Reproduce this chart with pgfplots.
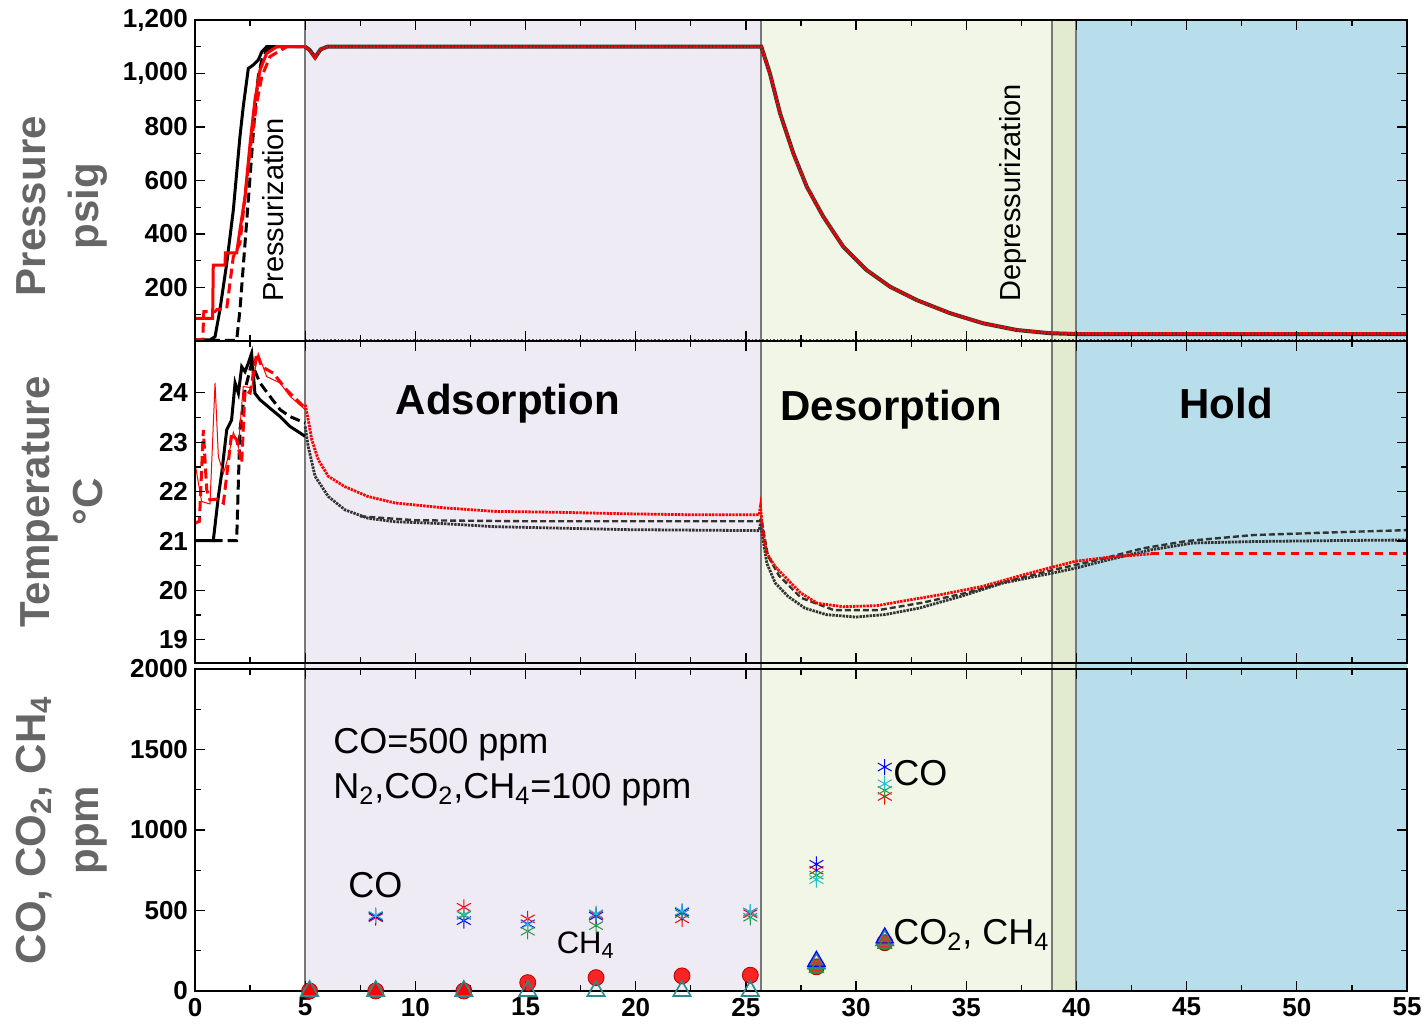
\documentclass[border=0pt]{standalone}
\usepackage{fontspec}
\setmainfont{Liberation Sans}
\usepackage{pgfplots}
\pgfplotsset{compat=1.18}
\definecolor{adsorb}{RGB}{238,235,244}
\definecolor{desorb}{RGB}{242,246,230}
\definecolor{band}{RGB}{226,235,208}
\definecolor{hold}{RGB}{183,222,234}
\definecolor{sep}{RGB}{120,120,120}
\definecolor{labgray}{RGB}{102,102,102}
\definecolor{tealm}{RGB}{40,140,140}
\definecolor{greenm}{RGB}{40,150,60}
\definecolor{cyanm}{RGB}{40,190,200}
\pgfplotsset{
  panel/.style={
    width=606pt, scale only axis, xmin=0, xmax=55,
    axis on top, tick align=inside, tick pos=both,
    xtick={0,5,...,55}, minor x tick num=1, minor y tick num=1,
    major tick length=5pt, minor tick length=3pt,
    axis line style={line width=1pt, black},
    tick style={black, line width=0.6pt},
    tick label style={font=\fontsize{13}{13}\selectfont\bfseries},
    /pgf/number format/assume math mode=true,
    ylabel style={align=center, font=\fontsize{21}{26.5}\selectfont\bfseries, text=labgray, at={(axis description cs:-0.110,0.5)}, anchor=center},
  },
  bg/.style={draw=none, forget plot},
  sepl/.style={sep, line width=1pt, forget plot},
  rthick/.style={red, line width=1.5pt},
  bthick/.style={black, line width=1.5pt},
  dsh/.style={dash pattern=on 5pt off 2.5pt},
  rdat/.style={red, line width=1.4pt, dash pattern=on 1.2pt off 0.5pt},
  bdat/.style={black!80, line width=1.4pt, dash pattern=on 1.2pt off 0.5pt},
}
\begin{document}
\begin{tikzpicture}
\path[use as bounding box] (-97.5pt,-17.5pt) rectangle (616pt,495.5pt);
% ---------------- bottom panel ----------------
\begin{axis}[panel, at={(0pt,0pt)}, anchor=south west, height=161pt,
  ymin=0, ymax=2000, ytick={0,500,...,2000}, clip=false,
  yticklabel style={/pgf/number format/1000 sep={}},
  ylabel={CO, CO\textsubscript{2}, CH\textsubscript{4}\\ppm}]
\addplot[bg, fill=adsorb] coordinates {(5,0) (25.7,0) (25.7,2037) (5,2037)};
\addplot[bg, fill=desorb] coordinates {(25.7,0) (38.9,0) (38.9,2037) (25.7,2037)};
\addplot[bg, fill=band] coordinates {(38.9,0) (40,0) (40,2037) (38.9,2037)};
\addplot[bg, fill=hold] coordinates {(40,0) (55,0) (55,2037) (40,2037)};
\addplot[sepl] coordinates {(5,0) (5,2037)};
\addplot[sepl] coordinates {(25.7,0) (25.7,2037)};
\addplot[sepl] coordinates {(38.9,0) (38.9,2037)};
\addplot[sepl] coordinates {(40,0) (40,2037)};
% CO2 / CH4 circles
\addplot[only marks, mark=*, mark size=4pt, mark options={fill=red, draw=red!70!black, fill opacity=0.85}] coordinates {
(5.2,0) (8.2,0) (12.2,0) (15.1,52) (18.2,83) (22.1,94) (25.2,98) (28.2,150) (31.3,300)};
\addplot[only marks, mark=triangle*, mark size=4pt, mark options={fill=red, draw=red}] coordinates {
(5.2,0) (8.2,0) (12.2,0)};
\addplot[only marks, mark=triangle, mark size=5pt, mark options={draw=tealm, line width=0.8pt}] coordinates {
(5.2,0) (8.2,0) (12.2,0) (15.1,0) (18.2,0) (22.1,0) (25.2,0) (28.2,170) (31.3,315)};
\addplot[only marks, mark=triangle, mark size=5pt, mark options={draw=blue, line width=0.6pt}] coordinates {
(28.2,185) (31.3,330)};
\addplot[only marks, mark=triangle, mark size=4pt, mark options={draw=greenm, line width=0.6pt}] coordinates {
(28.2,140) (31.3,290)};
% CO stars
\addplot[only marks, mark=asterisk, mark size=4pt, mark options={draw=red, line width=0.5pt}] coordinates {
(8.2,455) (12.2,520) (15.1,448) (18.2,475) (22.1,448) (25.2,480) (28.2,750) (31.3,1208)};
\addplot[only marks, mark=asterisk, mark size=4pt, mark options={draw=greenm, line width=0.5pt}] coordinates {
(8.2,465) (12.2,469) (15.1,371) (18.2,406) (22.1,480) (25.2,458) (28.2,719) (31.3,1246)};
\addplot[only marks, mark=asterisk, mark size=4pt, mark options={draw=blue, line width=0.5pt}] coordinates {
(8.2,462) (12.2,437) (15.1,417) (18.2,465) (22.1,490) (25.2,490) (28.2,787) (31.3,1391)};
\addplot[only marks, mark=asterisk, mark size=4pt, mark options={draw=cyanm, line width=0.5pt}] coordinates {
(8.2,470) (12.2,475) (15.1,412) (18.2,480) (22.1,496) (25.2,490) (28.2,692) (31.3,1287)};
\node[anchor=west, font=\fontsize{18}{18}\selectfont, inner sep=0pt] at (axis cs:6.26,1528) {CO=500 ppm};
\node[anchor=west, font=\fontsize{18}{18}\selectfont, inner sep=0pt] at (axis cs:6.26,1248) {N\textsubscript{2},CO\textsubscript{2},CH\textsubscript{4}=100 ppm};
\node[anchor=west, font=\fontsize{18}{18}\selectfont, inner sep=0pt] at (axis cs:6.94,658) {CO};
\node[anchor=west, font=\fontsize{15.5}{15.5}\selectfont, inner sep=0pt] at (axis cs:16.4,286) {CH\textsubscript{4}};
\node[anchor=west, font=\fontsize{18}{18}\selectfont, inner sep=0pt] at (axis cs:31.67,1354) {CO};
\node[anchor=west, font=\fontsize{18}{18}\selectfont, inner sep=0pt] at (axis cs:31.67,348) {CO\textsubscript{2}, CH\textsubscript{4}};
\end{axis}
% ---------------- middle panel ----------------
\begin{axis}[panel, at={(0pt,164pt)}, anchor=south west, height=161pt,
  ymin=18.53, ymax=25.05, ytick={19,20,...,24}, xticklabels={},
  ylabel={Temperature\\°C}]
\addplot[bg, fill=adsorb] coordinates {(5,18) (25.7,18) (25.7,26) (5,26)};
\addplot[bg, fill=desorb] coordinates {(25.7,18) (38.9,18) (38.9,26) (25.7,26)};
\addplot[bg, fill=band] coordinates {(38.9,18) (40,18) (40,26) (38.9,26)};
\addplot[bg, fill=hold] coordinates {(40,18) (55,18) (55,26) (40,26)};
\addplot[sepl] coordinates {(5,18) (5,26)};
\addplot[sepl] coordinates {(25.7,18) (25.7,26)};
\addplot[sepl] coordinates {(38.9,18) (38.9,26)};
\addplot[sepl] coordinates {(40,18) (40,26)};
% pre-adsorption traces
\addplot[bthick] coordinates {(0,21.01) (0.83,21.01) (1.06,21.9) (1.21,22.37) (1.44,23.25) (1.66,23.45) (1.82,24.2) (1.97,23.99) (2.12,24.53) (2.27,24.43) (2.42,24.6) (2.57,24.8) (2.72,23.99) (2.95,23.86) (3.4,23.69) (3.86,23.52) (4.31,23.32) (5,23.12)};
\addplot[bthick, dsh] coordinates {(0.8,21.01) (1.89,21.01) (2.04,23.25) (2.27,24.06) (2.57,24.6) (2.95,24.2) (3.4,23.93) (3.86,23.66) (4.31,23.52) (5,23.39)};
\addplot[rthick, dsh] coordinates {(0,21.36) (0.2,21.4) (0.38,23.25) (0.53,22.04) (0.68,21.83) (1.0,21.85) (1.29,21.77) (1.51,22.58) (1.66,23.18) (1.89,23.05) (2.12,22.58) (2.27,24.06) (2.5,24.0) (2.8,24.8) (3.03,24.53) (3.55,24.4) (4.16,24.06) (5,23.69)};
\addplot[red, line width=0.5pt] coordinates {(0,22.58) (0.3,21.8) (0.68,21.75) (0.91,24.2) (1.06,22.71) (1.29,22.37) (1.51,22.7) (1.74,23.2) (1.97,22.9) (2.19,24.13) (2.57,24.1) (2.87,24.8) (3.25,24.33) (3.86,24.2) (4.31,23.93) (5,23.66)};
% logged traces
\addplot[bdat] coordinates {(5,23.32) (5.14,22.91) (5.45,22.31) (6.05,21.90) (6.81,21.63) (7.86,21.46) (9.08,21.39) (11.34,21.35) (13.6,21.29) (16.6,21.26) (19.66,21.23) (25.6,21.21) (25.66,21.36) (25.95,20.55) (26.33,20.15) (26.91,19.88) (27.68,19.64) (28.64,19.51) (29.98,19.46) (31.31,19.51) (32.85,19.64) (34.76,19.88) (36.67,20.15) (38.9,20.35) (39.96,20.45) (41.45,20.62) (43.37,20.82) (45.29,20.96) (48.16,20.99) (51.99,21.01) (55,21.02)};
\addplot[black!80, line width=1.2pt, dash pattern=on 3pt off 1.5pt] coordinates {(7.5,21.5) (10,21.42) (15,21.4) (25.6,21.4) (25.7,21.45) (26,20.7) (26.5,20.3) (27.5,19.85) (29,19.6) (31,19.6) (33,19.75) (35,19.95) (37,20.2) (39,20.42) (41,20.62) (43,20.85) (45,21.0) (48,21.12) (52,21.18) (55,21.22)};
\addplot[rdat] coordinates {(5,23.76) (5.14,23.45) (5.3,23.05) (5.6,22.64) (6.05,22.31) (6.8,22.10) (7.86,21.90) (9.08,21.77) (11.34,21.67) (13.6,21.60) (16.6,21.58) (19.66,21.55) (22.69,21.53) (25.6,21.53) (25.66,21.70) (25.76,21.23) (25.95,20.75) (26.33,20.48) (26.91,20.21) (27.48,19.95) (28.24,19.74) (29.4,19.67) (30.93,19.69) (32.46,19.81) (33.8,19.91) (35.72,20.08) (37.63,20.32) (38.9,20.47) (39.96,20.59) (41.45,20.67) (43.37,20.74)};
\addplot[red, line width=1.4pt, dash pattern=on 4pt off 3pt] coordinates {(43.37,20.74) (55,20.74)};
\node[font=\fontsize{21}{21}\selectfont\bfseries] at (axis cs:14.2,23.78) {Adsorption};
\node[font=\fontsize{21}{21}\selectfont\bfseries] at (axis cs:31.6,23.66) {Desorption};
\node[font=\fontsize{21}{21}\selectfont\bfseries] at (axis cs:46.8,23.78) {Hold};
\end{axis}
% ---------------- top panel ----------------
\begin{axis}[panel, at={(0pt,325pt)}, anchor=south west, height=160.5pt,
  ymin=0, ymax=1200, ytick={200,400,...,1200}, minor ytick={100,300,...,1100}, xticklabels={},
  yticklabel style={/pgf/number format/1000 sep={,}},
  ylabel={Pressure\\psig}, ylabel style={at={(axis description cs:-0.110,0.42)}}]
\addplot[bg, fill=adsorb] coordinates {(5,0) (25.7,0) (25.7,1200) (5,1200)};
\addplot[bg, fill=desorb] coordinates {(25.7,0) (38.9,0) (38.9,1200) (25.7,1200)};
\addplot[bg, fill=band] coordinates {(38.9,0) (40,0) (40,1200) (38.9,1200)};
\addplot[bg, fill=hold] coordinates {(40,0) (55,0) (55,1200) (40,1200)};
\addplot[sepl] coordinates {(5,0) (5,1200)};
\addplot[sepl] coordinates {(25.7,0) (25.7,1200)};
\addplot[sepl] coordinates {(38.9,0) (38.9,1200)};
\addplot[sepl] coordinates {(40,0) (40,1200)};
\addplot[bthick] coordinates {(0,4) (0.68,4) (0.91,16) (1.13,116) (1.44,290) (1.74,490) (2.04,764) (2.19,876) (2.42,1019) (2.65,1032) (2.87,1050) (3.03,1081) (3.25,1100) (5,1100)};
\addplot[bthick, dsh] coordinates {(0,2) (1.89,2) (2.04,116) (2.27,365) (2.5,614) (2.72,863) (2.87,988) (3.03,1050) (3.25,1088) (3.71,1100) (5,1100)};
\addplot[rthick] coordinates {(0,85) (0.8,85) (0.83,284) (1.36,284) (1.38,329) (1.89,329) (2.04,415) (2.27,539) (2.5,739) (2.72,901) (2.95,1013) (3.25,1075) (3.71,1100) (5,1100)};
\addplot[rthick, dsh] coordinates {(0,4) (0.35,4) (0.4,110) (0.9,110) (1.0,118) (1.44,122) (1.74,315) (2.04,365) (2.27,539) (2.5,714) (2.8,888) (3.03,988) (3.4,1063) (4.16,1100) (5,1100)};
\addplot[black!70, line width=0.8pt, densely dotted] coordinates {(5,5) (55,5)};
\addplot[black!80, line width=2pt] coordinates {(5,1100) (5.2,1088) (5.45,1060) (5.7,1090) (6,1100) (25.7,1100) (26.09,1000) (26.55,851) (27.15,702) (27.76,577) (28.51,465) (29.42,352) (30.48,265) (31.54,203) (32.75,153) (34.26,104) (35.77,66) (37.29,41) (38.8,29) (40,26) (55,26)};
\addplot[rdat] coordinates {(5,1100) (5.2,1085) (5.45,1058) (5.7,1090) (6,1100) (25.7,1100) (26.09,1000) (26.55,851) (27.15,702) (27.76,577) (28.51,465) (29.42,352) (30.48,265) (31.54,203) (32.75,153) (34.26,104) (35.77,66) (37.29,41) (38.8,30) (40,28) (55,28)};
\node[rotate=90, font=\fontsize{14.5}{14.5}\selectfont] at (axis cs:3.54,490) {Pressurization};
\node[rotate=90, font=\fontsize{14.5}{14.5}\selectfont] at (axis cs:37.1,553) {Depressurization};
\end{axis}
\end{tikzpicture}
\end{document}
